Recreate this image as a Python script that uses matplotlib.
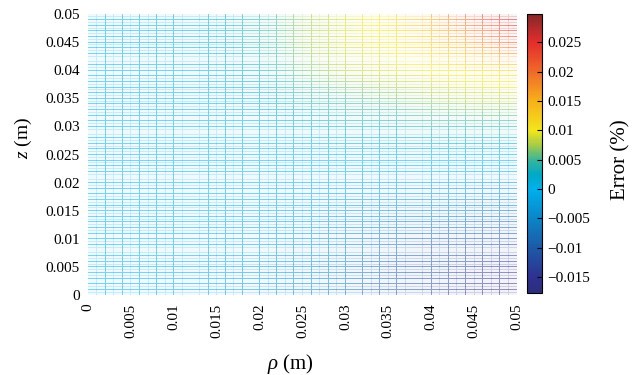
import numpy as np
import matplotlib
matplotlib.use("Agg")
import matplotlib.pyplot as plt
from matplotlib.colors import LinearSegmentedColormap, Normalize
from matplotlib.cm import ScalarMappable
from matplotlib.path import Path
from matplotlib.patches import PathPatch

# radial and axial node positions (m)
RHO = [0.0, 0.005, 0.01, 0.015, 0.02, 0.025, 0.03, 0.035, 0.04, 0.045, 0.05]
Z = [0.0, 0.005, 0.01, 0.015, 0.02, 0.025, 0.03, 0.035, 0.04, 0.045, 0.05]

# error (%) at each node, rows follow Z from bottom to top, columns follow RHO
ERROR = [
    [0.0, -0.0003, -0.001, -0.002, -0.003, -0.005, -0.007, -0.010, -0.012, -0.015, -0.0175],
    [0.0, -0.0003, -0.0008, -0.0015, -0.0025, -0.004, -0.006, -0.009, -0.011, -0.013, -0.015],
    [0.0, -0.0002, -0.0005, -0.001, -0.002, -0.003, -0.005, -0.007, -0.009, -0.010, -0.011],
    [0.0, 0.0, -0.0003, -0.0005, -0.001, -0.002, -0.003, -0.004, -0.005, -0.006, -0.007],
    [0.0, 0.0, 0.0, 0.0, -0.0005, -0.001, -0.0015, -0.002, -0.002, -0.0025, -0.003],
    [0.0, 0.0001, 0.0002, 0.0003, 0.0004, 0.0005, 0.0008, 0.001, 0.001, 0.001, 0.001],
    [0.0002, 0.0003, 0.0005, 0.0008, 0.001, 0.002, 0.003, 0.003, 0.004, 0.004, 0.004],
    [0.0003, 0.0005, 0.0008, 0.001, 0.002, 0.004, 0.005, 0.006, 0.007, 0.008, 0.008],
    [0.0005, 0.0008, 0.001, 0.0015, 0.003, 0.006, 0.008, 0.009, 0.010, 0.011, 0.012],
    [0.0005, 0.001, 0.0015, 0.002, 0.004, 0.007, 0.009, 0.010, 0.013, 0.017, 0.022],
    [0.0005, 0.001, 0.0015, 0.002, 0.004, 0.007, 0.009, 0.011, 0.016, 0.022, 0.029],
]

X_TICKS = [0, 0.005, 0.01, 0.015, 0.02, 0.025, 0.03, 0.035, 0.04, 0.045, 0.05]
X_TICK_LABELS = ["0", "0.005", "0.01", "0.015", "0.02", "0.025",
                 "0.03", "0.035", "0.04", "0.045", "0.05"]
Y_TICKS = X_TICKS
Y_TICK_LABELS = X_TICK_LABELS
CBAR_TICKS = [-0.015, -0.01, -0.005, 0, 0.005, 0.01, 0.015, 0.02, 0.025]
CBAR_TICK_LABELS = ["\u22120.015", "\u22120.01", "\u22120.005", "0", "0.005",
                    "0.01", "0.015", "0.02", "0.025"]

VMIN, VMAX = -0.0177, 0.0298
CMAP_VALUES = [-0.0177, -0.015, -0.01, -0.005, 0.0, 0.0025, 0.005, 0.0075,
               0.01, 0.015, 0.02, 0.025, 0.0298]
CMAP_COLORS = ["#2c2e7a", "#2e3190", "#1c5aa8", "#0a86c8", "#00b0ec",
               "#00a9c5", "#3bb69a", "#a5cc45", "#f2e61c", "#f8b019",
               "#ef6a2a", "#e42d2b", "#86272a"]

plt.rcParams["font.family"] = "Liberation Serif"
plt.rcParams["mathtext.fontset"] = "custom"
plt.rcParams["mathtext.rm"] = "Liberation Serif"
plt.rcParams["mathtext.it"] = "Liberation Serif:italic"


def strips(xs, ys, wx, wy, x0, x1, y0, y1):
    verts, codes = [], []
    for x in xs:
        verts += [(x - wx / 2, y0), (x + wx / 2, y0), (x + wx / 2, y1),
                  (x - wx / 2, y1), (x - wx / 2, y0)]
        codes += [Path.MOVETO, Path.LINETO, Path.LINETO, Path.LINETO, Path.CLOSEPOLY]
    for y in ys:
        verts += [(x0, y - wy / 2), (x1, y - wy / 2), (x1, y + wy / 2),
                  (x0, y + wy / 2), (x0, y - wy / 2)]
        codes += [Path.MOVETO, Path.LINETO, Path.LINETO, Path.LINETO, Path.CLOSEPOLY]
    return Path(verts, codes)


def run():
    positions = [v / (VMAX - VMIN) - VMIN / (VMAX - VMIN) for v in CMAP_VALUES]
    cmap = LinearSegmentedColormap.from_list("err", list(zip(positions, CMAP_COLORS)))
    norm = Normalize(VMIN, VMAX)

    fig = plt.figure(figsize=(6.32, 3.75), dpi=100)
    ax = fig.add_axes((88 / 632, 80 / 375, 429 / 632, 281 / 375))
    cax = fig.add_axes((527 / 632, 82 / 375, 15 / 632, 279 / 375))

    err = np.array(ERROR)
    # node values sit on pixel centres, so widen the extent by half a step
    hx = (RHO[1] - RHO[0]) / 2
    hz = (Z[1] - Z[0]) / 2
    extent = (RHO[0] - hx, RHO[-1] + hx, Z[0] - hz, Z[-1] + hz)

    def field(alpha):
        return ax.imshow(err, origin="lower", extent=extent, cmap=cmap,
                         norm=norm, interpolation="bilinear", alpha=alpha,
                         aspect="auto")

    # faint tint of the mesh faces
    field(0.06)

    # mesh edges: the colour field seen only through thin strips
    wx, wy = 0.05 / 429 * 0.9, 0.05 / 281 * 0.9
    layers = [
        (np.arange(0, 0.0501, 0.002), np.arange(0, 0.0501, 0.001), 0.5),
        (np.arange(0.001, 0.05, 0.002), np.arange(0.0005, 0.05, 0.001), 0.18),
    ]
    for xs, ys, alpha in layers:
        img = field(alpha)
        patch = PathPatch(strips(xs, ys, wx, wy, 0, 0.05, 0, 0.05),
                          transform=ax.transData, facecolor="none", edgecolor="none")
        ax.add_patch(patch)
        img.set_clip_path(patch)

    ax.set_xlim(0, 0.05)
    ax.set_ylim(0, 0.05)
    for s in ax.spines.values():
        s.set_visible(False)
    ax.set_xticks(X_TICKS)
    ax.set_xticklabels(X_TICK_LABELS, rotation=90, fontsize=11)
    ax.set_yticks(Y_TICKS)
    ax.set_yticklabels(Y_TICK_LABELS, fontsize=11)
    ax.tick_params(length=0, pad=6)
    ax.set_ylabel("$z$ (m)", fontsize=14)
    ax.yaxis.set_label_coords(-0.125, 0.559)
    ax.set_xlabel("$\\rho$ (m)", fontsize=15)
    ax.xaxis.set_label_coords(0.471, -0.203)

    cb = fig.colorbar(ScalarMappable(norm=norm, cmap=cmap), cax=cax)
    cb.set_ticks(CBAR_TICKS)
    cb.set_ticklabels(CBAR_TICK_LABELS)
    cb.outline.set_linewidth(0.8)
    cax.tick_params(direction="in", length=3.5, width=0.8, labelsize=11, pad=4)
    cb.set_label("Error (%)", fontsize=15)
    cax.yaxis.set_label_coords(5.6, 0.477)

    fig.savefig("out.png", dpi=100)
    plt.close(fig)


if __name__ == "__main__":
    run()
